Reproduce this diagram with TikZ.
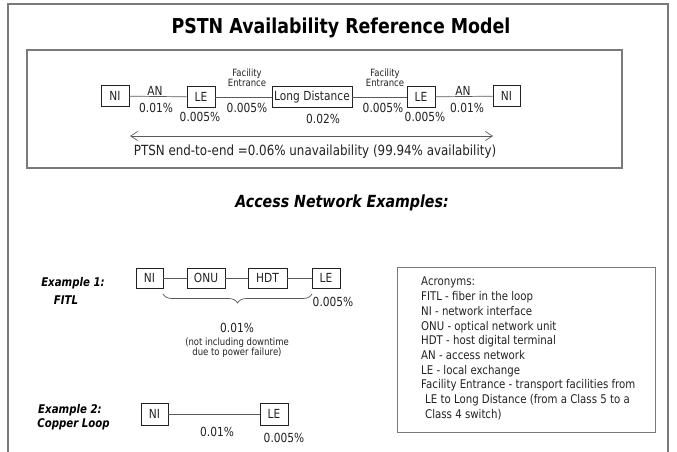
\documentclass[tikz,border=0pt]{standalone}
\usepackage{fontspec}
\setmainfont{DejaVu Sans}[FakeStretch=0.85]
\usetikzlibrary{arrows.meta,decorations.pathreplacing}
\definecolor{frame}{HTML}{7A7A7A}
\definecolor{ink}{HTML}{222222}
\begin{document}
\begin{tikzpicture}[x=1pt,y=-1pt,
  box/.style={draw=ink,line width=0.9pt,inner sep=0pt,minimum height=21pt,font=\fontsize{12.5}{14}\selectfont,text=ink},
  lbl/.style={inner sep=0pt,font=\fontsize{12.5}{14}\selectfont,text=ink},
  small/.style={inner sep=0pt,font=\fontsize{10}{10.5}\selectfont,align=center,text=ink},
  exlbl/.style={inner sep=0pt,font=\fontsize{12}{14}\selectfont\bfseries\itshape,text=black},
  wire/.style={draw=ink!75,line width=0.7pt},
  frameline/.style={draw=frame,line width=1.3pt}]
\useasboundingbox (0,0) rectangle (677,452);
% frames
\draw[frameline] (8,452) -- (8,4) -- (668,4) -- (668,452);
\draw[frameline] (27,50) rectangle (622,168);
\draw[draw=frame,line width=1pt] (397,267) rectangle (655,432);
% title
\node[inner sep=0pt,font=\fontsize{20.5}{22}\selectfont\bfseries] (title) at (341,28) {PSTN Availability Reference Model};
% top row
\node[box,minimum width=28pt] (ni1) at (115,96) {NI};
\node[box,minimum width=28pt] (le1) at (201,97) {LE};
\node[box,minimum width=80pt] (ld) at (312,97) {Long Distance};
\node[box,minimum width=28pt] (le2) at (421,97) {LE};
\node[box,minimum width=27pt] (ni2) at (506.5,96) {NI};
\draw[wire] (ni1) -- (le1);
\draw[wire] (le1) -- (ld);
\draw[wire] (ld) -- (le2);
\draw[wire] (le2) -- (ni2);
\node[lbl] (an1) at (155,91) {AN};
\node[lbl] (p1) at (156,108) {0.01\%};
\node[lbl] (p2) at (200,117) {0.005\%};
\node[small] (fe1) at (247,78) {Facility\\Entrance};
\node[lbl] (p3) at (247,108) {0.005\%};
\node[lbl] (p4) at (323,119) {0.02\%};
\node[small] (fe2) at (385,78) {Facility\\Entrance};
\node[lbl] (p5) at (383,108) {0.005\%};
\node[lbl] (p6) at (425,117) {0.005\%};
\node[lbl] (an2) at (463,91) {AN};
\node[lbl] (p7) at (467,108) {0.01\%};
\coordinate (aL) at (130,136);
\coordinate (aR) at (493,136);
\draw[draw=ink!75,line width=0.7pt,{Straight Barb[length=7pt,width=9pt]}-{Straight Barb[length=7pt,width=9pt]}] (aL) -- (aR);
\node[inner sep=0pt,font=\fontsize{14}{16}\selectfont,text=ink] (e2e) at (315,152) {PTSN end-to-end =0.06\% unavailability (99.94\% availability)};
% access network
\node[inner sep=0pt,font=\fontsize{16.7}{18}\selectfont\bfseries\itshape] (acc) at (342,203) {Access Network Examples:};
% example 1
\node[exlbl] (ex1) at (73,283) {Example 1:};
\node[exlbl] (fitl) at (66,300) {FITL};
\node[box,minimum width=27pt,minimum height=20pt] (eni) at (149.5,278) {NI};
\node[box,minimum width=38pt,minimum height=20pt] (onu) at (206,278) {ONU};
\node[box,minimum width=39pt,minimum height=20pt] (hdt) at (267.5,278) {HDT};
\node[box,minimum width=28pt,minimum height=20pt] (ele) at (326,278) {LE};
\draw[wire] (eni) -- (onu);
\draw[wire] (onu) -- (hdt);
\draw[wire] (hdt) -- (ele);
\coordinate (bL) at (163,294);
\coordinate (bR) at (312,294);
\draw[draw=ink!75,line width=0.7pt,decorate,decoration={brace,amplitude=9pt,mirror}] (bL) -- (bR);
\node[lbl] (q1) at (333,302) {0.005\%};
\node[lbl] (q2) at (237,328) {0.01\%};
\node[small] (q3) at (237,347.5) {(not including downtime\\due to power failure)};
% example 2
\node[exlbl] (ex2) at (70,410) {Example 2:};
\node[exlbl] (cl) at (73.5,424) {Copper Loop};
\node[box,minimum width=27pt,minimum height=22pt] (cni) at (154.5,414) {NI};
\node[box,minimum width=28pt,minimum height=22pt] (cle) at (274,414) {LE};
\draw[wire] (cni) -- (cle);
\node[lbl] (r1) at (217,432) {0.01\%};
\node[lbl] (r2) at (284,438) {0.005\%};
% acronyms
\node[inner sep=0pt,anchor=north west,align=left,font=\fontsize{12}{14.7}\selectfont,text=ink] (acr) at (421,277) {Acronyms:\\
FITL - fiber in the loop\\
NI - network interface\\
ONU - optical network unit\\
HDT - host digital terminal\\
AN - access network\\
LE - local exchange\\
Facility Entrance - transport facilities from\\
\hspace*{4pt}LE to Long Distance (from a Class 5 to a\\
\hspace*{4pt}Class 4 switch)};
\end{tikzpicture}
\end{document}
